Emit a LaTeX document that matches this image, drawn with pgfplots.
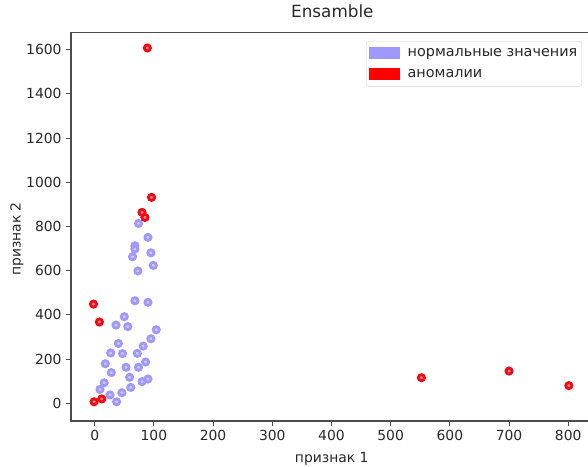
\documentclass[border=0pt]{standalone}
\usepackage{fontspec}
\setmainfont{DejaVu Sans}
\usepackage{pgfplots}
\pgfplotsset{compat=1.18}
\definecolor{cnorm}{RGB}{158,152,255}
\definecolor{canom}{RGB}{240,10,20}
\definecolor{txt}{RGB}{40,40,40}

\begin{document}
\begin{tikzpicture}
\begin{axis}[
    at={(71pt,45pt)}, anchor=south west,
    scale only axis, width=522.7pt, height=388.5pt,
    xmin=-40, xmax=843, ymin=-80, ymax=1678,
    xtick={0,100,...,800}, ytick={0,200,...,1600},
    axis line style={black!70, line width=1.1pt},
    tick style={black!70, line width=1.1pt},
    tick align=outside, major tick length=4.9pt,
    xtick pos=bottom, ytick pos=left,
    /pgf/number format/assume math mode=true,
    /pgf/number format/1000 sep={},
    ticklabel style={font=\fontsize{13.9}{16}\selectfont, text=txt},
    xticklabel style={yshift=-1pt},
    yticklabel style={xshift=-1pt},
    title={Ensamble},
    title style={font=\fontsize{16.8}{19}\selectfont, text=txt,
        at={(axis description cs:0.5,1.0219)}, anchor=base},
    xlabel={признак 1},
    xlabel style={font=\fontsize{13.9}{16}\selectfont, text=txt,
        at={(axis description cs:0.4988,-0.098)}, anchor=center},
    ylabel={признак 2},
    ylabel style={font=\fontsize{13.9}{16}\selectfont, text=txt,
        at={(axis description cs:-0.1033,0.4685)}, anchor=center, rotate=0},
    legend cell align=left,
    legend style={at={(axis description cs:0.9776,0.978)}, anchor=north east,
        draw=black!18, rounded corners=2.5pt, fill=white,
        font=\fontsize{14.4}{16}\selectfont, text=txt,
        inner xsep=2.5pt, inner ysep=5.5pt, row sep=7pt,
        /tikz/every odd column/.append style={column sep=6.5pt}},
]
\addlegendimage{legend image code/.code={\fill[cnorm, sharp corners] (0pt,-5pt) rectangle (30pt,6pt);}}
\addlegendentry{нормальные значения}
\addlegendimage{legend image code/.code={\fill[red, sharp corners] (0pt,-5pt) rectangle (30pt,6pt);}}
\addlegendentry{аномалии}

% нормальные значения
\addplot[only marks, mark=*, mark size=3.1pt, forget plot,
    mark options={draw=cnorm, fill=cnorm!50, line width=2.8pt}]
coordinates {
(74,814) (90,751) (68,713) (68,698) (95,681) (64,663) (99,624) (73,599)
(68,464) (90,457) (50,392) (36,354) (56,347) (104,333) (95,292) (40,271)
(82,259) (27,228) (47,225) (72,226) (18,179) (86,187) (53,163) (74,163)
(28,139) (59,118) (16,93) (90,110) (80,98) (61,72) (9,63) (26,38)
(46,48) (37,7)
};
% аномалии
\addplot[only marks, mark=*, mark size=3.1pt, forget plot,
    mark options={draw=canom, fill=canom!50, line width=2.8pt}]
coordinates {
(89,1608) (96,932) (80,864) (85,841) (-2,449) (8,368) (-1,7) (12,20)
(552,116) (700,146) (801,80)
};
\end{axis}
\pgfresetboundingbox
\path (0pt,0pt) rectangle (588pt,466pt);
\end{tikzpicture}
\end{document}
